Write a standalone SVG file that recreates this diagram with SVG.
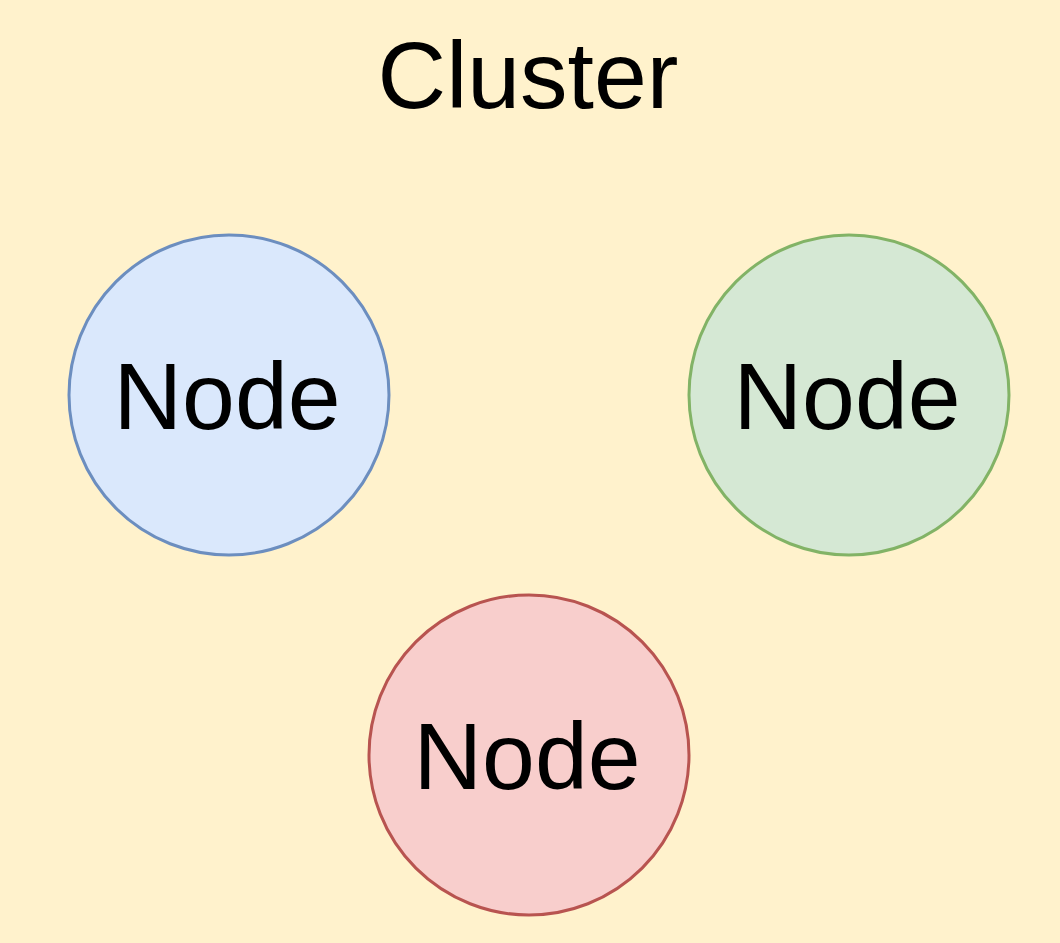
<svg xmlns="http://www.w3.org/2000/svg" width="1060" height="943" viewBox="0 0 1060 943">
<style>
.t{font-family:"Liberation Sans",Arial,sans-serif;font-size:95px;fill:#000;text-anchor:middle}
.n{stroke-width:3}
</style>
<g id="cluster">
<rect x="0" y="0" width="1060" height="943" fill="#fff2cc"/>
<text class="t" x="528" y="108">Cluster</text>
</g>
<g id="node-blue">
<circle class="n" cx="229" cy="395" r="160" fill="#dae8fc" stroke="#6c8ebf"/>
<text class="t" x="227" y="429">Node</text>
</g>
<g id="node-green">
<circle class="n" cx="849" cy="395" r="160" fill="#d5e8d4" stroke="#82b366"/>
<text class="t" x="847" y="429">Node</text>
</g>
<g id="node-red">
<circle class="n" cx="529" cy="755" r="160" fill="#f8cecc" stroke="#b85450"/>
<text class="t" x="527" y="789">Node</text>
</g>
<g id="connectors"/>
</svg>
